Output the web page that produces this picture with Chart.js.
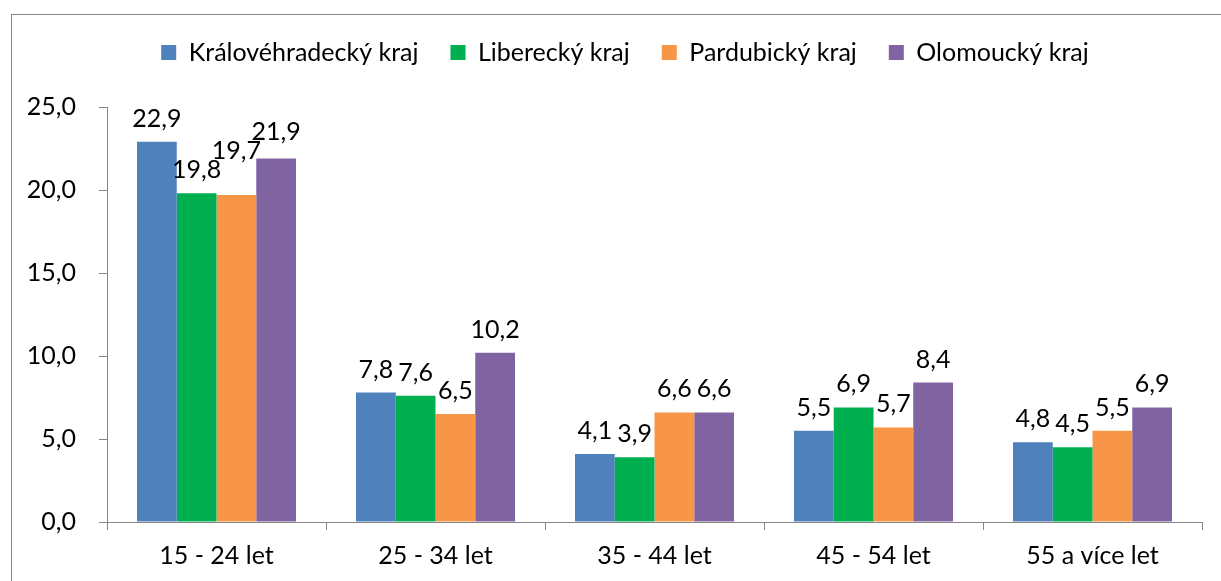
<!DOCTYPE html>
<html lang="cs">

<head>
  <meta charset="UTF-8">
  <title>Kraje – věkové skupiny</title>
  <style>
    html, body { margin: 0; padding: 0; background: #fff; overflow: hidden; }
    .frame {
      position: absolute;
      left: 11px;
      top: 14px;
      width: 1300px;
      height: 700px;
      border: 1px solid #868686;
    }
    .chart-box {
      position: absolute;
      left: 0;
      top: 0;
      width: 1221px;
      height: 581px;
    }
  </style>
</head>

<body>
  <div class="frame"></div>
  <div class="chart-box">
    <canvas id="ageChart"></canvas>
  </div>

  <script src="https://cdn.jsdelivr.net/npm/chart.js"></script>
  <script>
    const categories = ['15 - 24 let', '25 - 34 let', '35 - 44 let', '45 - 54 let', '55 a více let'];
    const regions = ['Královéhradecký kraj', 'Liberecký kraj', 'Pardubický kraj', 'Olomoucký kraj'];
    const hradecValues = [22.9, 7.8, 4.1, 5.5, 4.8];
    const liberecValues = [19.8, 7.6, 3.9, 6.9, 4.5];
    const pardubiceValues = [19.7, 6.5, 6.6, 5.7, 5.5];
    const olomoucValues = [21.9, 10.2, 6.6, 8.4, 6.9];
    const yTicks = [0, 5, 10, 15, 20, 25];

    const colors = ['#4f81bd', '#00b050', '#f79646', '#8064a2'];
    const seriesValues = [hradecValues, liberecValues, pardubiceValues, olomoucValues];
    const fontFamily = 'Lato, "Noto Sans", sans-serif';
    const fontSize = 25;
    const fmt = v => v.toFixed(1).replace('.', ',');

    // extra room under the legend, and legend nudged right like the original
    const legendGap = {
      id: 'legendGap',
      beforeInit(chart) {
        const fit = chart.legend.fit;
        chart.legend.fit = function () {
          fit.bind(chart.legend)();
          this.height += 32;
        };
      },
      afterLayout(chart) {
        chart.legend.left += 24;
        chart.legend.right += 24;
      }
    };

    // value labels above bars, pushed up when they collide
    const valueLabels = {
      id: 'valueLabels',
      afterDatasetsDraw(chart) {
        const ctx = chart.ctx;
        ctx.save();
        ctx.font = fontSize + 'px ' + fontFamily;
        ctx.fillStyle = '#000';
        ctx.textAlign = 'center';
        ctx.textBaseline = 'alphabetic';
        categories.forEach((c, i) => {
          const placed = [];
          chart.data.datasets.forEach((ds, d) => {
            const bar = chart.getDatasetMeta(d).data[i];
            const text = fmt(ds.data[i]);
            const m = ctx.measureText(text);
            const h = m.actualBoundingBoxAscent;
            const w = m.width - 2;
            let y = bar.y - 15;
            let moved = true;
            while (moved) {
              moved = false;
              for (const p of placed) {
                const hx = Math.abs(p.x - bar.x) < (p.w + w) / 2;
                const hy = y > p.y - p.h && y - h < p.y;
                if (hx && hy) {
                  y = p.y - p.h - 1;
                  moved = true;
                }
              }
            }
            placed.push({ x: bar.x, y: y, w: w, h: h });
            ctx.fillText(text, bar.x, y);
          });
        });
        ctx.restore();
      }
    };

    const ctx = document.getElementById('ageChart').getContext('2d');
    const ageChart = new Chart(ctx, {
      type: 'bar',
      data: {
        labels: categories,
        datasets: regions.map((name, k) => ({
          label: name,
          data: seriesValues[k],
          backgroundColor: colors[k],
          borderWidth: 0,
          categoryPercentage: 0.726,
          barPercentage: 1
        }))
      },
      options: {
        responsive: true,
        maintainAspectRatio: false,
        animation: false,
        layout: {
          padding: { top: 8, right: 19, bottom: 0, left: 0 }
        },
        scales: {
          x: {
            grid: { drawOnChartArea: false, tickLength: 8, color: '#868686' },
            border: { color: '#868686', width: 1 },
            ticks: { color: '#000', padding: 11, font: { family: fontFamily, size: fontSize } },
            afterFit: s => { s.height = 59; }
          },
          y: {
            min: 0,
            max: 25,
            afterBuildTicks: s => { s.ticks = yTicks.map(v => ({ value: v })); },
            grid: { drawOnChartArea: false, tickLength: 8, color: '#868686' },
            border: { color: '#868686', width: 1 },
            ticks: {
              color: '#000',
              padding: 23,
              font: { family: fontFamily, size: fontSize },
              callback: v => fmt(v)
            },
            afterFit: s => { s.width = 107; }
          }
        },
        plugins: {
          legend: {
            position: 'top',
            labels: {
              boxWidth: 15,
              boxHeight: 15,
              padding: 32,
              color: '#000',
              font: { family: fontFamily, size: fontSize }
            }
          },
          tooltip: { enabled: false }
        }
      },
      plugins: [legendGap, valueLabels]
    });
  </script>
</body>

</html>
